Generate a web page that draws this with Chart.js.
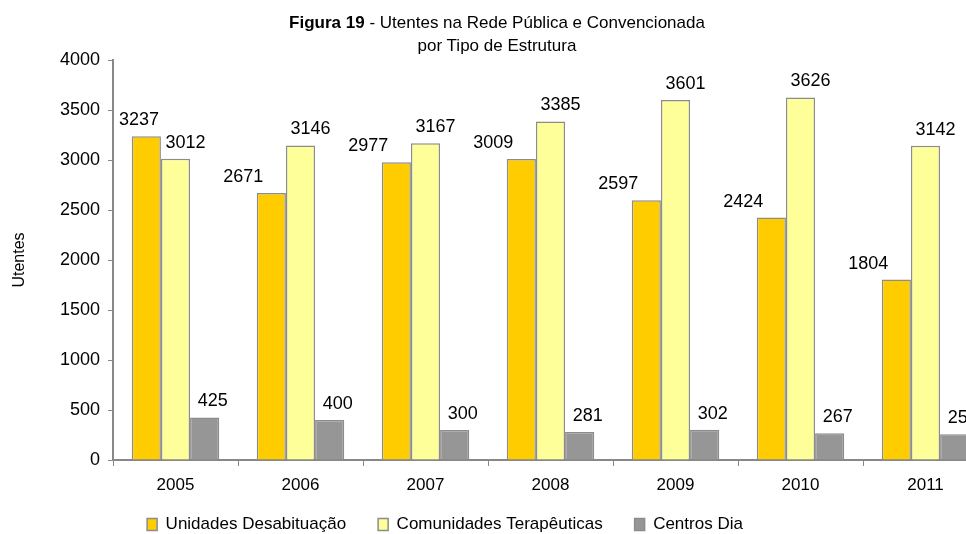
<!DOCTYPE html>
<html>
<head>
<meta charset="utf-8">
<script src="https://cdn.jsdelivr.net/npm/chart.js@4"></script>
<style>
  html, body { margin: 0; padding: 0; background: #fff; overflow: hidden; }
  #wrap { position: relative; width: 1000px; height: 534px; }
  #title {
    position: absolute; top: 11px; left: 0; width: 994px; text-align: center;
    font-family: "Liberation Sans", Arial, sans-serif; font-size: 17px; line-height: 23px; color: #000;
  }
</style>
</head>
<body>
<div id="wrap">
  <div id="title"><b>Figura 19</b> - Utentes na Rede Pública e Convencionada<br>por Tipo de Estrutura</div>
  <canvas id="chart" width="1000" height="534"></canvas>
</div>
<script>
const years = ["2005", "2006", "2007", "2008", "2009", "2010", "2011"];
const unidades = [3237, 2671, 2977, 3009, 2597, 2424, 1804];
const comunidades = [3012, 3146, 3167, 3385, 3601, 3626, 3142];
const centros = [425, 400, 300, 281, 302, 267, 257];
const seriesNames = ["Unidades Desabituação", "Comunidades Terapêuticas", "Centros Dia"];

const FONT = "'Liberation Sans', Arial, sans-serif";

// labels above each bar, shifted sideways like the original
const barLabels = {
  id: "barLabels",
  afterDatasetsDraw(chart) {
    const ctx = chart.ctx;
    const shifts = [-28, 10, 8];
    ctx.save();
    ctx.font = "18px " + FONT;
    ctx.fillStyle = "#000";
    ctx.textAlign = "center";
    ctx.textBaseline = "bottom";
    chart.data.datasets.forEach((ds, i) => {
      chart.getDatasetMeta(i).data.forEach((bar, j) => {
        const txt = String(ds.data[j]);
        const w = ctx.measureText(txt).width;
        let x = bar.x + shifts[i];
        if (x - w / 2 < chart.chartArea.left + 6) x = chart.chartArea.left + 6 + w / 2;
        ctx.fillText(txt, x, bar.y - 7);
      });
    });
    ctx.restore();
  }
};

const shiftLegend = {
  id: "shiftLegend",
  afterLayout(chart) {
    const lg = chart.legend;
    lg.left -= 52;
    lg.right -= 52;
    lg.top -= 14;
    lg.bottom -= 14;
  }
};

new Chart(document.getElementById("chart"), {
  type: "bar",
  data: {
    labels: years,
    datasets: [
      { label: seriesNames[0], data: unidades, backgroundColor: "#FFCC00" },
      { label: seriesNames[1], data: comunidades, backgroundColor: "#FFFF99" },
      { label: seriesNames[2], data: centros, backgroundColor: "#969696" }
    ].map(d => Object.assign(d, {
      borderColor: "#8C8C8C", borderWidth: 1.5,
      barPercentage: 1, categoryPercentage: 0.7
    }))
  },
  options: {
    responsive: false,
    animation: false,
    layout: { padding: { top: 60, right: 12, left: 6, bottom: -23 } },
    plugins: {
      title: { display: false },
      tooltip: { enabled: false },
      legend: {
        position: "bottom",
        labels: {
          font: { family: FONT, size: 17 },
          color: "#000",
          boxWidth: 10, boxHeight: 12,
          padding: 32
        }
      }
    },
    scales: {
      x: {
        grid: { display: true, drawOnChartArea: false, tickLength: 6, color: "#888", offset: true },
        border: { color: "#888", width: 2 },
        ticks: { font: { family: FONT, size: 17 }, color: "#000", padding: 9 },
        afterFit(scale) { scale.height = 38; }
      },
      y: {
        min: 0, max: 4000,
        ticks: { stepSize: 500, font: { family: FONT, size: 18 }, color: "#000", padding: 8,
                 callback: v => String(v) },
        grid: { display: true, drawOnChartArea: false, tickLength: 5, color: "#888" },
        border: { color: "#888", width: 2 },
        title: { display: true, text: "Utentes", font: { family: FONT, size: 16 }, color: "#000", padding: 4 },
        afterFit(scale) { scale.width = 107; }
      }
    }
  },
  plugins: [barLabels, shiftLegend]
});
</script>
</body>
</html>
